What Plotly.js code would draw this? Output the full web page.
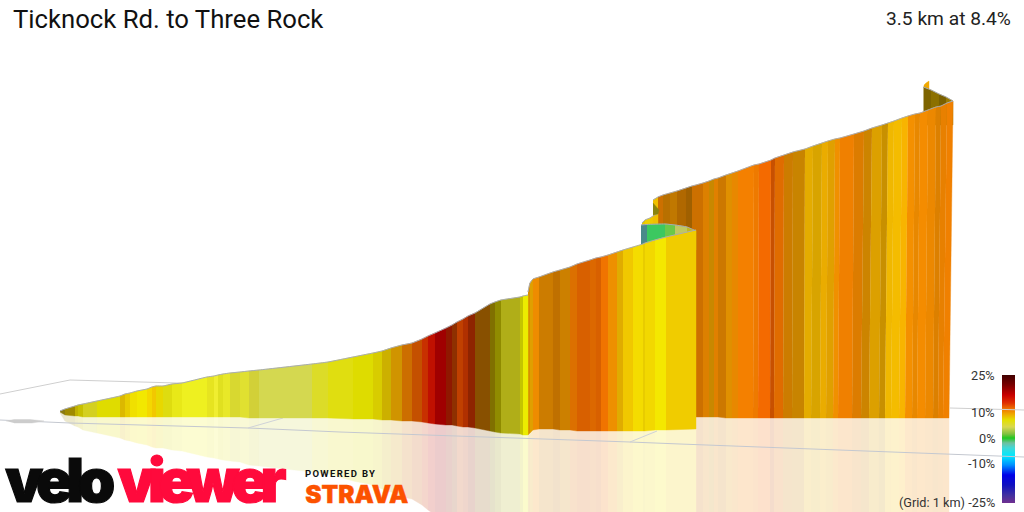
<!DOCTYPE html>
<html><head><meta charset="utf-8">
<script src="https://cdn.plot.ly/plotly-3.0.1.min.js"></script>
<style>html,body{margin:0;padding:0;background:#fff;overflow:hidden}#c{width:1024px;height:512px}</style>
</head><body><div id="c"></div>
<script>
// first climb section
const seg1Edges=[60,65,75,78,83,97,120,125,130,137,147,152,156,163,172,182,207,214,218,223,230,240,249,259,312,328,353,373,382,391,402,412,422,428,435,446,452,457,463,468,475,490,495,501,520,523,528];
const seg1Tops=[411,409,406,405,404,401,396,394,393,391,389,387,386,386,384,383,377,376,375,374,373,372,371,370,364,362,357,353,351,348,345,343,339,336,333,328,325,322,319,316,313,304,302,300,297,296,295];
const seg1Bases=[412,415,416,416,417,417,417,417,417,417,417,417,417,417,417,417,417,417,417,417,417,417,418,418,418,418,419,419,420,420,421,421,422,423,424,425,425,426,427,427,428,431,432,433,434,435,435];
const seg1Colors=['#8a7a10','#a08a00','#c0b000','#c8c000','#d4d020','#dfdc00','#dcb800','#e8cc00','#f0e000','#f2e800','#f4d800','#f2c800','#e8d800','#dedc10','#e8e818','#eef020','#e6e420','#f0ee30','#e0e020','#e8e828','#d8d830','#e0e030','#d2d038','#d4d850','#dcdc28','#e0de10','#dedc00','#d8cc00','#ccb000','#d09400','#cc6e00','#c45000','#c83000','#c01000','#a00000','#901800','#8e3000','#c04000','#b03000','#8e2400','#885000','#807000','#908c00','#b0ae18','#c4c400','#ecec00'];
// second climb section
const seg2Edges=[528,530,533,539,553,560,570,577,590,596,601,608,617,623,633,643,645,655,666,696];
const seg2Tops=[292,283,279,277,272,270,267,264,260,258,257,255,252,250,247,244,243,240,237,230];
const seg2Bases=[435,433,430,429,429,430,430,431,431,431,431,431,431,431,431,431,431,430,430,429];
const seg2Colors=['#d89000','#e0a000','#ee8c00','#cc7c00','#bf7000','#cc8000','#dc7000','#d86000','#dc6800','#d86000','#f07400','#ee9000','#e0ac00','#f0c800','#f4dc00','#e8cc00','#f2d800','#f4e800','#f0cc00'];
// third climb section
const seg3Edges=[653,658,663,670,677,686,692,696,703,709,714,718,726,732,738,753,758,770,774,783,792,804,811,820,826,833,838,852,861,869,879,885,891,899,905,912,917,925,933,938,943,949];
const seg3TopEdges=[653,658,663,670,677,686,692,696,703,709,714,718,726,732,738,754,759,771,775,784,793,805,813,822,828,835,840,854,864,872,882,888,894,902,908,915,920,928,936,941,947,953];
const seg3Tops=[200,197,195,193,191,188,186,185,183,181,179,178,175,173,171,165,164,160,158,155,152,149,146,143,141,139,138,134,131,128,125,123,121,118,116,114,113,110,107,106,103,101];
const seg3Bases=[417,417,417,417,417,417,417,417,417,417,417,417,418,418,418,418,418,418,418,418,418,418,418,418,418,418,418,418,418,418,418,418,418,418,418,418,418,418,418,418,418,418];
const seg3Colors=['#f0c000','#cc7000','#b87000','#c07800','#b06800','#a06000','#cc7000','#cc7000','#dc8000','#c88800','#e08000','#cc7800','#e09000','#e88800','#f48000','#ee7a00','#f46a00','#c85000','#e06c00','#cc7c00','#c88400','#e4ac00','#d8a400','#eaac00','#e0a000','#f09000','#f08000','#dc7c00','#cc8400','#dca000','#c89000','#f0b800','#f4bc00','#f8b400','#f49000','#e88800','#f48c00','#ec8800','#dc8000','#e88000','#f08000'];
// hairpin pieces
const greenEdges=[641,647,665,675,687,696];
const greenTops=[225,224.5,224,225,227,231];
const greenBases=[250,250,250,250,250,250];
const greenColors=['#4a8a8a','#3cc860','#6cc848','#c0c860','#c0b820'];
const linkEdges=[642,645,650,653,658];
const linkTops=[223,220,218,216,213.5];
const linkBases=[245,245,245,245,245];
const linkColors=['#e8c800','#f0d000','#f0c800','#f0c000'];
const kinkX=[653,657,659,658,653];
const kinkY=[203,207,210,214,215];
const kinkColor='#8a8410';
const endEdges=[923.5,931,939,946,953];
const endTops=[87,90,94,97,101];
const endBases=[125,125,125,125,125];
const endColors=['#7e6400','#8c7000','#7a6000','#9a7c00'];
const curlX=[924,924,926,929,929];
const curlY=[88,85,83,81,91];
const curlColor='#f0a800';
// ground grid
const gridLines=[
 {x:[0,70,177,300],y:[394,380,383,386],c:'#cfcfcf'},
 {x:[0,70,248,340,630,680,1024],y:[420,423,428,432,442,444,457],c:'#c4c8d0'},
 {x:[248,283],y:[428,418],c:'#cfd2d8'},
 {x:[630,657],y:[442,431],c:'#cfd2d8'},
 {x:[950,1024],y:[408,410],c:'#cfcfcf'}
];
const blobX=[6,14,30,44,32,14];
const blobY=[421,419.5,419.5,421,423,423];
// gradient colour bar
const barGrades=['25%','10%','0%','-10%','-25%'];
const barGradeY=[375,412,438,463,502];
const barStopY=[375,385,395,403,410,415,420,427,434,438,443,448,456,465,475,485,495,503];
const barStopColors=['#400000','#7a0000','#c80000','#e03000','#f08000','#eeb000','#e4e000','#d8d850','#80c040','#20c820','#70c0a0','#40d8d8','#00e8ff','#0090ff','#0000e8','#1010c0','#4030a0','#703090'];
const titleText='Ticknock Rd. to Three Rock';
const summaryText='3.5 km at 8.4%';

function fade(hex,a){const n=parseInt(hex.slice(1),16);const m=v=>Math.round(v*a+255*(1-a));
 return `rgb(${m(n>>16&255)},${m(n>>8&255)},${m(n&255)})`;}
const traces=[];
function poly(x,y,c){traces.push({type:'scatter',mode:'lines',x:x,y:y,fill:'toself',fillcolor:c,line:{width:0.4,color:c},hoverinfo:'skip'});}
function mirror(e,t,b,cs){cs.forEach((c,i)=>poly([e[i],e[i+1],e[i+1],e[i]],[b[i],b[i+1],2*b[i+1]-t[i+1],2*b[i]-t[i]],fade(c,0.2)));}
function ribbon(e,te,t,b,cs){cs.forEach((c,i)=>poly([te[i],te[i+1],e[i+1],e[i]],[t[i],t[i+1],b[i+1],b[i]],c));}
function rim(x,y){traces.push({type:'scatter',mode:'lines',x:x,y:y,line:{width:1,color:'#a8acb4',shape:'spline',smoothing:0.5},hoverinfo:'skip'});}

// reflections (back to front)
mirror(seg3Edges,seg3Tops,seg3Bases,seg3Colors);
mirror(seg2Edges,seg2Tops,seg2Bases,seg2Colors);
mirror(seg1Edges,seg1Tops,seg1Bases,seg1Colors);
// ground grid
gridLines.forEach(g=>traces.push({type:'scatter',mode:'lines',x:g.x,y:g.y,line:{width:1,color:g.c},hoverinfo:'skip'}));
poly(blobX,blobY,'#cccccc');
// ribbons (back to front)
poly(curlX,curlY,curlColor);
ribbon(endEdges,endEdges,endTops,endBases,endColors);rim(endEdges,endTops);
ribbon(seg3Edges,seg3TopEdges,seg3Tops,seg3Bases,seg3Colors);rim(seg3TopEdges,seg3Tops);
ribbon(linkEdges,linkEdges,linkTops,linkBases,linkColors);rim(linkEdges,linkTops);
poly(kinkX,kinkY,kinkColor);
ribbon(greenEdges,greenEdges,greenTops,greenBases,greenColors);rim(greenEdges,greenTops);
ribbon(seg2Edges,seg2Edges,seg2Tops,seg2Bases,seg2Colors);rim(seg2Edges,seg2Tops);
ribbon(seg1Edges,seg1Edges,seg1Tops,seg1Bases,seg1Colors);rim(seg1Edges,seg1Tops);
// colour bar
const rampRows=[],rampEdges=[375];
for(let y=375;y<503;y++){rampRows.push([y+0.5]);rampEdges.push(y+1);}
traces.push({type:'heatmap',x:[1002,1015],y:rampEdges,z:rampRows,zmin:375,zmax:503,showscale:false,hoverinfo:'skip',
 colorscale:barStopY.map((y,i)=>[(y-375)/128,barStopColors[i]])});

const lab=(t,x,y,anchor,size,color,extra)=>Object.assign({text:t,x:x,y:y,xref:'x',yref:'y',xanchor:anchor,yanchor:'middle',showarrow:false,borderpad:0,
 font:{family:'Roboto, sans-serif',size:size,color:color}},extra||{});
const anns=[lab(titleText,12,19,'left',25.7,'#111'),lab(summaryText,1012,18,'right',19.2,'#222')];
barGrades.forEach((g,i)=>anns.push(lab((i==4?'(Grid: 1 km) ':'')+g,995.5,barGradeY[i],'right',12.7,'#333')));
anns.push(lab('velo',60,480,'center',60,'#0a0a0a',{font:{family:'Inter, sans-serif',size:60,color:'#0a0a0a',weight:900}}));
anns.push(lab('viewer',201.5,480,'center',60,'#ff0a3c',{font:{family:'Inter, sans-serif',size:60,color:'#ff0a3c',weight:900}}));
anns.push(lab('POWERED BY',340,473,'center',9.5,'#111',{font:{family:'Roboto, sans-serif',size:9.5,color:'#111',weight:700}}));
anns.push(lab('STRAVA',357,494,'center',24,'#fc5200',{font:{family:'Inter, sans-serif',size:24,color:'#fc5200',weight:900}}));

Plotly.newPlot('c',traces,{width:1024,height:512,margin:{l:0,r:0,t:0,b:0},paper_bgcolor:'#fff',plot_bgcolor:'#fff',showlegend:false,
 xaxis:{range:[0,1024],visible:false,fixedrange:true},yaxis:{range:[512,0],visible:false,fixedrange:true},annotations:anns},
 {staticPlot:true,displayModeBar:false}).then(()=>{
  const fit={'velo':[110,'spacing',1.2],'viewer':[169,'spacing',1.2],'POWERED BY':[70,'spacing',0],'STRAVA':[103,'spacingAndGlyphs',0.4]};
  document.querySelectorAll('.annotation-text').forEach(t=>{const f=fit[t.textContent];
   if(f){t.setAttribute('textLength',f[0]);t.setAttribute('lengthAdjust',f[1]);
    if(f[2]){t.style.stroke=t.style.fill;t.style.strokeWidth=f[2]+'px';}}});
 });
</script></body></html>
